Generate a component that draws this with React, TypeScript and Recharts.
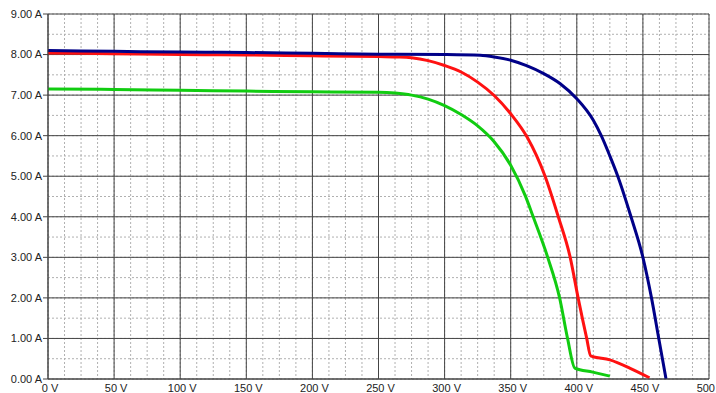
import React from 'react';
import { LineChart, Line, XAxis, YAxis, CartesianGrid } from 'recharts';

// I-V curves (volts, amps)
const blueVolts = [0, 50, 100, 150, 200, 250, 300, 327, 337.5, 350, 362.5, 375, 387.5, 400, 412.5, 418.5, 425, 431, 441, 450, 456.5, 462, 467.5];
const blueAmps = [8.1, 8.08, 8.06, 8.05, 8.03, 8.01, 8.0, 7.98, 7.94, 7.86, 7.72, 7.53, 7.28, 6.91, 6.38, 6.0, 5.5, 5.0, 4.0, 3.0, 2.0, 1.0, 0];

const redVolts = [0, 50, 100, 150, 200, 250, 266, 275, 287.5, 300, 312.5, 325, 337.5, 350, 362.5, 376, 386, 395, 401, 407.5, 410.5, 425, 440, 455];
const redAmps = [8.04, 8.02, 8.0, 7.99, 7.97, 7.95, 7.94, 7.92, 7.85, 7.73, 7.57, 7.32, 6.99, 6.54, 5.96, 5.0, 4.0, 3.0, 2.0, 1.0, 0.57, 0.47, 0.27, 0.03];

const greenVolts = [0, 50, 100, 150, 200, 250, 262.5, 275, 287.5, 300, 312.5, 325, 337.5, 350, 361, 367, 378, 387, 393, 398.5, 412, 425];
const greenAmps = [7.15, 7.14, 7.12, 7.1, 7.08, 7.07, 7.05, 7.0, 6.9, 6.74, 6.52, 6.24, 5.85, 5.27, 4.52, 4.0, 3.0, 2.0, 1.0, 0.27, 0.17, 0.07];

const voltTicks = [0, 50, 100, 150, 200, 250, 300, 350, 400, 450, 500];
const ampTicks = [0, 1, 2, 3, 4, 5, 6, 7, 8, 9];

// minor grid: every 12.5 V and 0.5 A
const minorVolts = Array.from({ length: 41 }, (_, i) => i * 12.5);
const minorAmps = Array.from({ length: 19 }, (_, i) => i * 0.5);

const toPoints = (volts: number[], amps: number[]) => volts.map((v, i) => ({ v, a: amps[i] }));

const blueData = toPoints(blueVolts, blueAmps);
const redData = toPoints(redVolts, redAmps);
const greenData = toPoints(greenVolts, greenAmps);

const minorX = (p: any) => minorVolts.map((v) => p.offset.left + (v / 500) * p.offset.width);
const minorY = (p: any) => minorAmps.map((a) => p.offset.top + (1 - a / 9) * p.offset.height);

const tickStyle = { fontSize: 11, fill: '#222', fontFamily: 'Liberation Sans, Arial, sans-serif' };

export default function App() {
  return (
    <div style={{ position: 'absolute', left: 0, top: 0, background: '#fff' }}>
      <LineChart width={716} height={393} margin={{ top: 14, right: 7, left: 0, bottom: 0 }}>
        <CartesianGrid
          stroke="#b0b0b0"
          strokeDasharray="2 2"
          verticalCoordinatesGenerator={minorX}
          horizontalCoordinatesGenerator={minorY}
        />
        <CartesianGrid stroke="#444" />
        <XAxis
          dataKey="v"
          type="number"
          domain={[0, 500]}
          ticks={voltTicks}
          tickFormatter={(v: number) => `${v} V`}
          tick={tickStyle}
          tickLine={false}
          tickSize={4}
          tickMargin={1}
          dx={2}
          height={14}
          interval={0}
          axisLine={{ stroke: '#444' }}
        />
        <YAxis
          type="number"
          domain={[0, 9]}
          ticks={ampTicks}
          tickFormatter={(a: number) => `${a.toFixed(2)} A`}
          tick={tickStyle}
          tickSize={5}
          tickMargin={1}
          width={48}
          interval={0}
          axisLine={{ stroke: '#444' }}
          tickLine={{ stroke: '#444' }}
        />
        <Line data={greenData} dataKey="a" type="monotone" stroke="#11cc11" strokeWidth={3} dot={false} isAnimationActive={false} />
        <Line data={redData} dataKey="a" type="monotone" stroke="#ff1111" strokeWidth={3} dot={false} isAnimationActive={false} />
        <Line data={blueData} dataKey="a" type="monotone" stroke="#000088" strokeWidth={3} dot={false} isAnimationActive={false} />
      </LineChart>
    </div>
  );
}
